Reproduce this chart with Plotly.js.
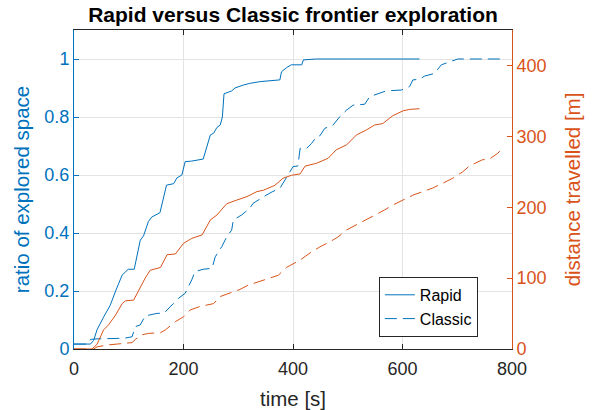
<!DOCTYPE html>
<html>
<head>
<meta charset="utf-8">
<script src="https://cdn.plot.ly/plotly-3.0.1.min.js"></script>
<style>html,body{margin:0;padding:0;background:#fff;}#chart{width:594px;height:410px;}</style>
</head>
<body>
<div id="chart"></div>
<script>
// Rapid: ratio of explored space
const rapidExpT = [0,30,36,42,54,66,76,88,99,110,121,127,136,142,157,164,169,182,188,197,203,215,236,249,255,261,267,271,274,288,294,309,321,340,376,379,388,397,416,419,443,500,631];
const rapidExpV = [0.017,0.017,0.03,0.066,0.11,0.15,0.2,0.255,0.275,0.275,0.375,0.39,0.44,0.455,0.47,0.525,0.565,0.57,0.59,0.60,0.646,0.648,0.655,0.738,0.744,0.764,0.772,0.80,0.88,0.89,0.90,0.91,0.916,0.922,0.928,0.956,0.97,0.98,0.98,0.997,1.0,1.0,1.0];

// Classic: ratio of explored space
const classicExpT = [0,25,30,42,91,106,112,121,130,152,164,176,191,203,215,221,236,252,258,270,279,288,291,306,321,327,340,346,362,376,391,400,409,411,413,425,434,443,449,458,473,485,498,510,531,540,555,570,598,613,619,631,640,658,671,686,701,783];
const classicExpV = [0.017,0.017,0.033,0.035,0.037,0.042,0.077,0.083,0.114,0.123,0.123,0.146,0.175,0.192,0.238,0.267,0.275,0.278,0.318,0.353,0.387,0.41,0.445,0.462,0.485,0.502,0.519,0.525,0.542,0.554,0.60,0.629,0.631,0.669,0.692,0.692,0.709,0.732,0.735,0.761,0.772,0.80,0.824,0.841,0.844,0.87,0.88,0.89,0.893,0.905,0.928,0.93,0.941,0.95,0.98,0.991,1.0,1.0];

// Rapid: distance travelled [m]
const rapidDistT = [0,33,42,54,63,76,88,94,109,121,130,139,158,170,185,200,215,234,249,261,279,297,316,334,346,367,382,397,413,422,443,464,479,498,516,534,549,564,582,601,613,631];
const rapidDistV = [0,0,6.6,27,34,48,64,68,69,88,100,111,115,133,134,149,156,161,182,189,205,210,215,222,224,231,241,245,247,258,262,269,281,288,302,309,316,318,329,336,338,339];

// Classic: distance travelled [m]
const classicDistT = [0,36,42,60,79,106,112,124,136,158,167,173,185,200,212,230,243,255,267,285,303,318,337,355,373,388,413,434,449,467,482,498,516,534,549,567,582,601,619,637,655,674,692,710,722,746,758,774,783];
const classicDistV = [0,0,3,5.6,7,9,13.6,20,22,23,27,31,38.5,45.5,55,60,62,64,74,78.5,84,90,95,100,104,115,125.5,137,144,151,158,168,175,182,189,196,203,210,217,222,227,234,241,250,258,267,267.5,276,284];

const seriesNames = ['Rapid', 'Classic'];
const xTicks = [0, 200, 400, 600, 800];
const yLeftTicks = [0, 0.2, 0.4, 0.6, 0.8, 1];
const yLeftTickText = ['0', '0.2', '0.4', '0.6', '0.8', '1'];
const yRightTicks = [0, 100, 200, 300, 400];

const BLUE = '#0072BD';
const ORANGE = '#D95319';
const FONT = 'Liberation Sans, Arial, Helvetica, sans-serif';
const DASH = '12px,6px';

const traces = [
  {x: rapidExpT, y: rapidExpV, name: seriesNames[0] + ' explored', mode: 'lines', line: {color: BLUE, width: 1}, yaxis: 'y', showlegend: false},
  {x: classicExpT, y: classicExpV, name: seriesNames[1] + ' explored', mode: 'lines', line: {color: BLUE, width: 1, dash: DASH}, yaxis: 'y', showlegend: false},
  {x: rapidDistT, y: rapidDistV, name: seriesNames[0] + ' distance', mode: 'lines', line: {color: ORANGE, width: 1}, yaxis: 'y2', showlegend: false},
  {x: classicDistT, y: classicDistV, name: seriesNames[1] + ' distance', mode: 'lines', line: {color: ORANGE, width: 1, dash: DASH}, yaxis: 'y2', showlegend: false},
  // legend entries (blue, as in the reference legend)
  {x: [null], y: [null], name: seriesNames[0], mode: 'lines', line: {color: BLUE, width: 1}, yaxis: 'y', showlegend: true},
  {x: [null], y: [null], name: seriesNames[1], mode: 'lines', line: {color: BLUE, width: 1, dash: DASH}, yaxis: 'y', showlegend: true}
];

const layout = {
  width: 594, height: 410,
  margin: {l: 74, r: 82, t: 30, b: 61},
  paper_bgcolor: '#fff', plot_bgcolor: '#fff',
  font: {family: FONT, size: 18, color: '#262626'},
  title: {text: '<b>Rapid versus Classic frontier exploration</b>', font: {family: FONT, size: 21, color: '#000'},
          x: 0.5, xref: 'paper', xanchor: 'center', y: 1 - 15/410, yref: 'container', yanchor: 'middle'},
  showlegend: true,
  legend: {x: 0.696, y: 0.226, xanchor: 'left', yanchor: 'top', bgcolor: '#fff', bordercolor: '#262626', borderwidth: 1,
           font: {family: FONT, size: 16, color: '#000'}, tracegroupgap: 0, traceorder: 'normal'},
  xaxis: {range: [0, 800], tickvals: xTicks, ticks: 'inside', ticklen: 5, tickcolor: '#262626',
          showline: true, linecolor: '#262626', linewidth: 1, mirror: 'ticks', ticklabelstandoff: 3,
          showgrid: true, gridcolor: '#e3e3e3', gridwidth: 1, zeroline: false,
          tickfont: {family: FONT, size: 18, color: '#262626'},
          title: {text: 'time [s]', font: {family: FONT, size: 20.5, color: '#262626'}, standoff: 16}},
  yaxis: {range: [0, 1.1], tickvals: yLeftTicks, ticktext: yLeftTickText, ticks: 'inside', ticklen: 5, tickcolor: BLUE,
          showline: true, linecolor: BLUE, linewidth: 1,
          showgrid: true, gridcolor: '#e3e3e3', gridwidth: 1, zeroline: false,
          tickfont: {family: FONT, size: 18, color: BLUE},
          title: {text: 'ratio of explored space', font: {family: FONT, size: 20.5, color: BLUE}, standoff: 9}},
  yaxis2: {range: [0, 450], tickvals: yRightTicks, overlaying: 'y', side: 'right', ticks: 'inside', ticklen: 5, tickcolor: ORANGE,
           showline: true, linecolor: ORANGE, linewidth: 1, showgrid: false, zeroline: false,
           tickfont: {family: FONT, size: 18, color: ORANGE},
           title: {text: 'distance travelled [m]', font: {family: FONT, size: 20.5, color: ORANGE}, standoff: 20}}
};

Plotly.newPlot('chart', traces, layout, {displayModeBar: false, staticPlot: true});
</script>
</body>
</html>
